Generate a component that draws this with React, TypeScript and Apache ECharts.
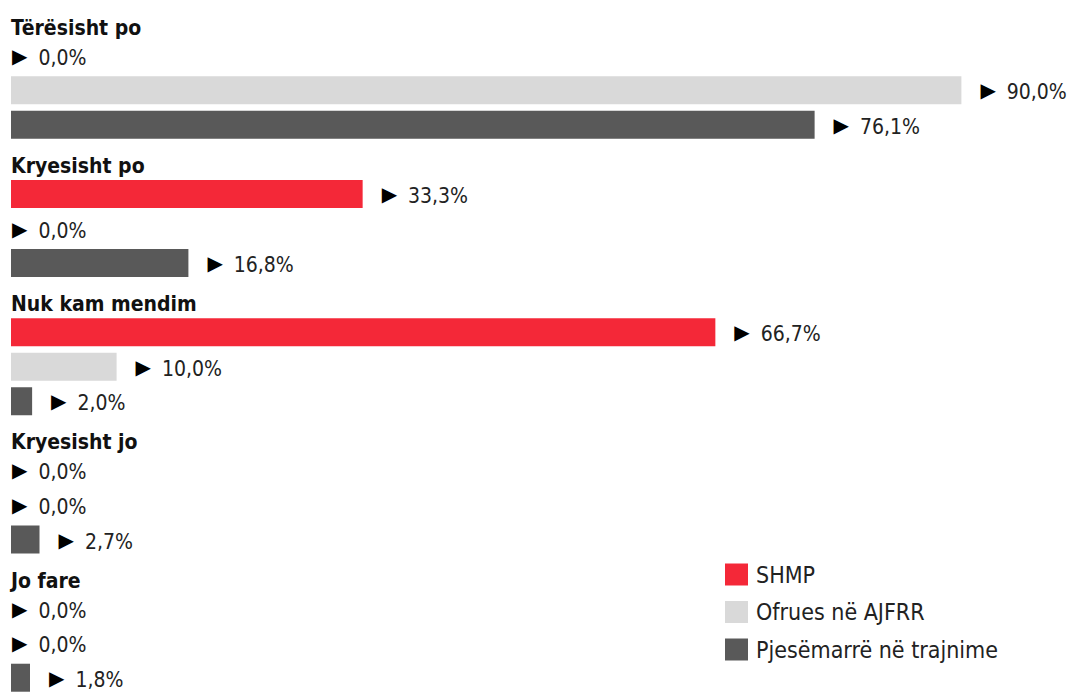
import React, { useEffect, useRef } from "react";
import * as echarts from "echarts";

const categories = ["Tërësisht po", "Kryesisht po", "Nuk kam mendim", "Kryesisht jo", "Jo fare"];
const seriesNames = ["SHMP", "Ofrues në AJFRR", "Pjesëmarrë në trajnime"];
const shmp = [0, 33.3, 66.7, 0, 0];
const ofrues = [90.0, 0, 10.0, 0, 0];
const pjesemarre = [76.1, 16.8, 2.0, 2.7, 1.8];
const colors = ["#F42838", "#D9D9D9", "#595959"];

const FONT = "'DejaVu Sans Condensed', 'DejaVu Sans', sans-serif";

export default function App() {
  const ref = useRef<HTMLDivElement>(null);
  useEffect(() => {
    document.body.style.margin = "0";
    const chart = echarts.init(ref.current!, null, { renderer: "svg" });
    const slots: string[] = [];
    categories.forEach((c, i) => {
      for (let k = 0; k < 4; k++) slots.push(`s${i}_${k}`);
    });
    const groups = [shmp, ofrues, pjesemarre];
    const series = groups.map((vals, s) => {
      const data: any[] = slots.map(() => null);
      vals.forEach((v, i) => {
        data[i * 4 + 1 + s] = v === 0 ? { value: v, label: { distance: 1 } } : v;
      });
      return {
        type: "bar",
        name: seriesNames[s],
        data,
        barWidth: 28,
        barGap: "-100%",
        itemStyle: { color: colors[s] },
        label: {
          show: true,
          position: "right",
          distance: 19,
          formatter: (p: any) =>
            "{a|▶}{b|" + Number(p.value).toFixed(1).replace(".", ",") + "%}",
          rich: {
            a: { fontFamily: "DejaVu Sans", fontSize: 20, color: "#000", padding: [0, 11, 0, 0] },
            b: { fontFamily: FONT, fontSize: 21, color: "#222", padding: [4, 0, 0, 0] },
          },
        },
      };
    });
    chart.setOption({
      animation: false,
      grid: { left: 11, right: 3, top: 3.9, height: 695, containLabel: false },
      xAxis: { type: "value", min: 0, max: 100, show: false },
      yAxis: {
        type: "category",
        inverse: true,
        data: slots,
        axisLine: { show: false },
        axisTick: { show: false },
        splitLine: { show: false },
        axisLabel: {
          inside: true,
          margin: 0,
          interval: 0,
          formatter: (_v: string, idx: number) =>
            idx % 4 === 0 ? "{t|" + categories[idx / 4] + "}" : "",
          rich: {
            t: {
              fontFamily: FONT,
              fontWeight: "bold",
              fontSize: 21,
              color: "#111",
              padding: [13, 0, 0, 0],
            },
          },
        },
      },
      legend: {
        orient: "vertical",
        left: 725,
        top: 563,
        padding: 0,
        icon: "rect",
        itemWidth: 23,
        itemHeight: 22,
        itemGap: 14.5,
        data: seriesNames,
        textStyle: { fontFamily: FONT, fontSize: 23, color: "#222", padding: [0, 0, 0, 3] },
      },
      series,
    });
    return () => chart.dispose();
  }, []);
  return <div ref={ref} style={{ width: 1070, height: 695 }} />;
}
